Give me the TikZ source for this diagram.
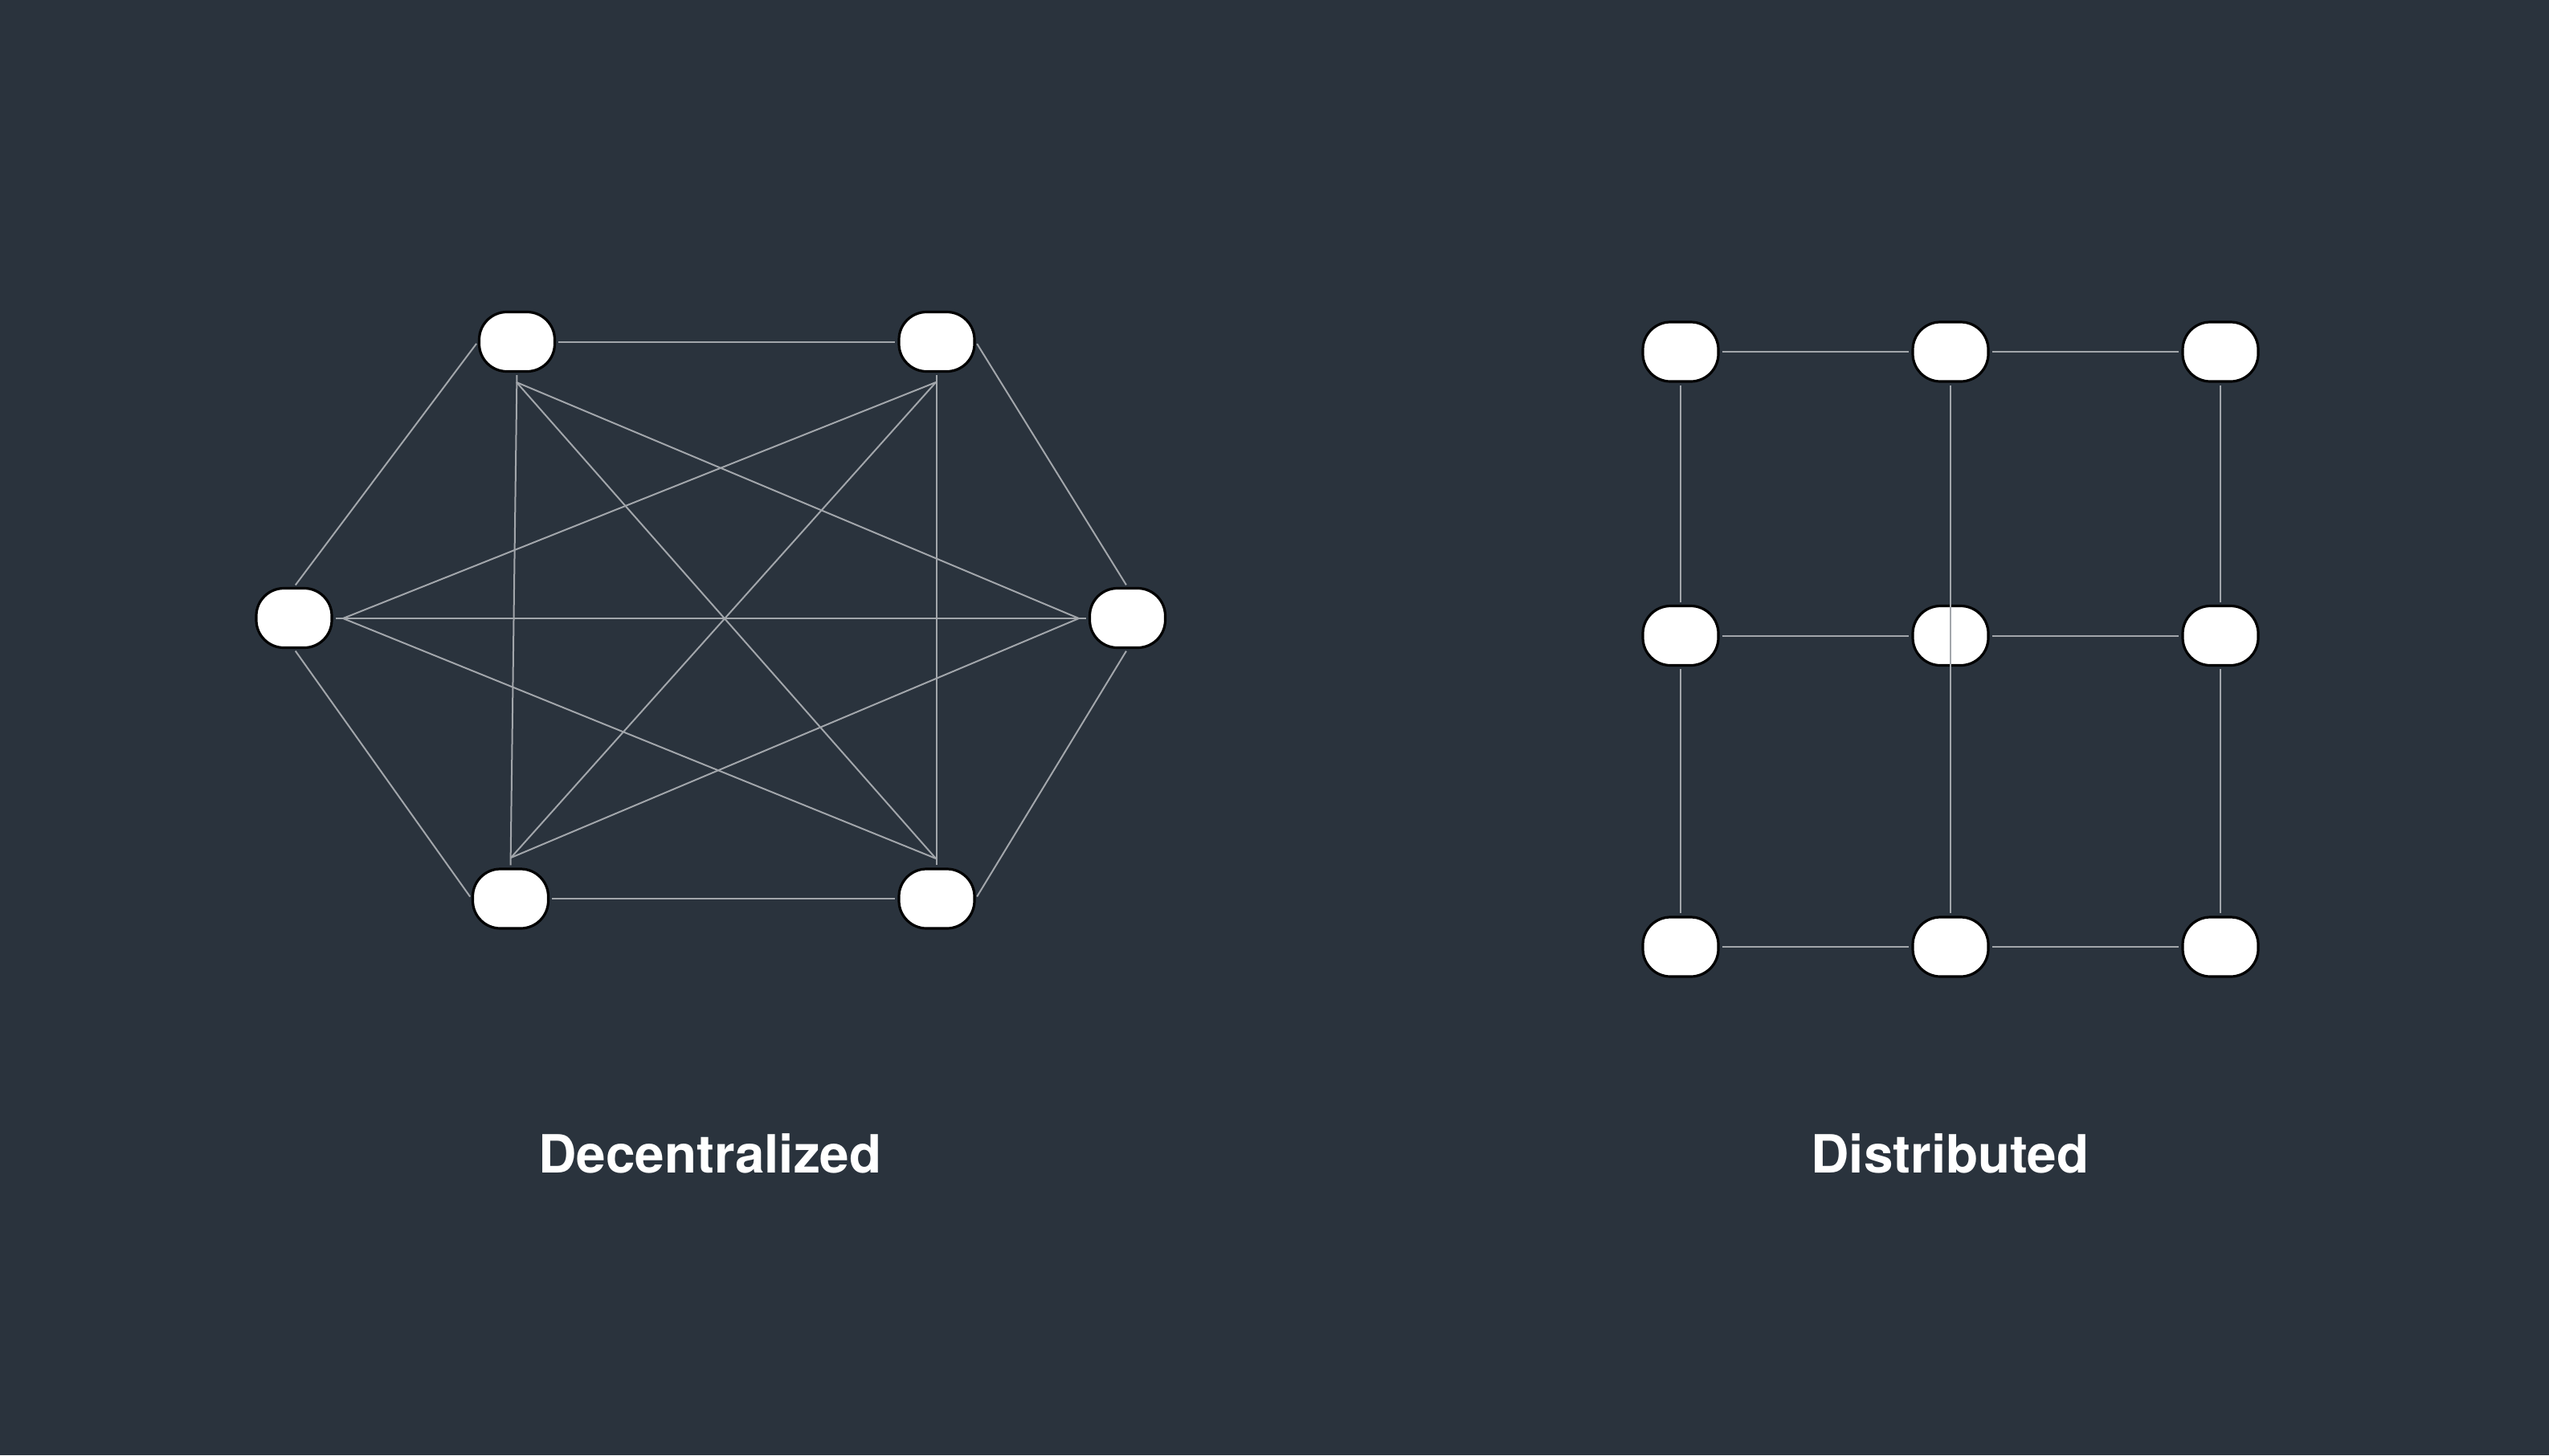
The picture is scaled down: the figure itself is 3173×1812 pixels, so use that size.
\documentclass[tikz,border=0pt]{standalone}
\usepackage{fontspec}
\setmainfont{TeX Gyre Heros}
\definecolor{bgcol}{HTML}{2A333D}
\definecolor{edgecol}{HTML}{A2A6AB}
\begin{document}
\begin{tikzpicture}[x=0.25pt, y=-0.25pt,
  peer/.style={draw=black, fill=white, line width=0.8pt, rounded corners=8.6pt,
    minimum width=23.5pt, minimum height=18.5pt, inner sep=0pt},
  link/.style={draw=edgecol, line width=0.5pt},
  gap/.style={shorten >=0.75pt, shorten <=0.75pt},
  title/.style={text=white, font=\fontsize{16.4pt}{19pt}\selectfont\bfseries, anchor=base}]
\fill[bgcol] (0,0) rectangle (3173,1812);
\useasboundingbox (0,0) rectangle (3173,1812);

% Decentralized nodes
\node[peer] (TL) at (643.5,425.5) {};
\node[peer] (TR) at (1166,425.5) {};
\node[peer] (L) at (366,769.5) {};
\node[peer] (R) at (1403.5,769.5) {};
\node[peer] (BL) at (635.5,1119) {};
\node[peer] (BR) at (1166,1119) {};

\coordinate (TLc) at (643,476);
\coordinate (TRc) at (1165,476);
\coordinate (Lc) at (427,770);
\coordinate (Rc) at (1343,770);
\coordinate (BLc) at (636,1068);
\coordinate (BRc) at (1165,1069);

% hexagon edges
\draw[link,gap] (TL.west) -- (L.north);
\draw[link,gap] (TL.east) -- (TR.west);
\draw[link,gap] (TR.east) -- (R.north);
\draw[link,gap] (L.south) -- (BL.west);
\draw[link,gap] (BL.east) -- (BR.west);
\draw[link,gap] (BR.east) -- (R.south);

% straight diagonals
\draw[link,gap] (TL.south) -- (BL.north);
\draw[link,gap] (TR.south) -- (BR.north);
\draw[link,gap] (L.east) -- (R.west);

% crossing diagonals
\draw[link] (TLc) -- (Rc);
\draw[link] (TLc) -- (BRc);
\draw[link] (TRc) -- (Lc);
\draw[link] (TRc) -- (BLc);
\draw[link] (Lc) -- (BRc);
\draw[link] (BLc) -- (Rc);

% Distributed grid
\node[peer] (G11) at (2092,438) {};
\node[peer] (G12) at (2428,438) {};
\node[peer] (G13) at (2764,438) {};
\node[peer] (G21) at (2092,791.5) {};
\node[peer] (G22) at (2428,791.5) {};
\node[peer] (G23) at (2764,791.5) {};
\node[peer] (G31) at (2092,1179) {};
\node[peer] (G32) at (2428,1179) {};
\node[peer] (G33) at (2764,1179) {};

\draw[link,gap] (G11.east) -- (G12.west);
\draw[link,gap] (G12.east) -- (G13.west);
\draw[link,gap] (G21.east) -- (G22.west);
\draw[link,gap] (G22.east) -- (G23.west);
\draw[link,gap] (G31.east) -- (G32.west);
\draw[link,gap] (G32.east) -- (G33.west);
\draw[link,gap] (G11.south) -- (G21.north);
\draw[link,gap] (G21.south) -- (G31.north);
\draw[link,gap] (G13.south) -- (G23.north);
\draw[link,gap] (G23.south) -- (G33.north);
\draw[link,gap] (G12.south) -- (G32.north);

% titles
\node[title] (t1) at (884,1460) {Decentralized};
\node[title] (t2) at (2427.5,1460) {Distributed};
\end{tikzpicture}
\end{document}
